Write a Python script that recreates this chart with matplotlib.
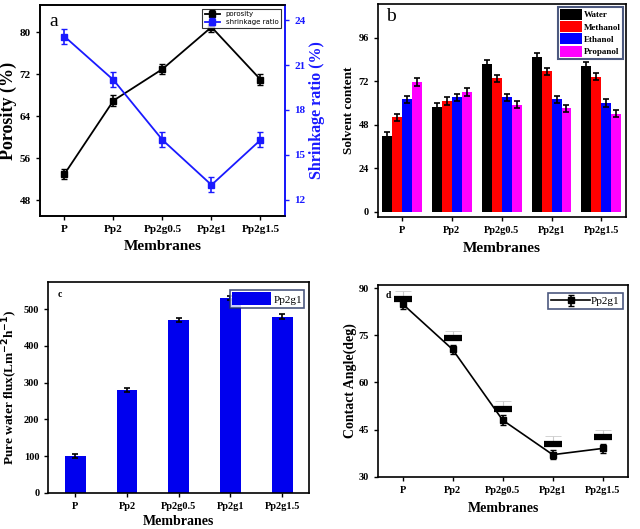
import numpy as np
from matplotlib import pyplot as plt

plt.rcParams["font.family"] = ["Liberation Serif", "DejaVu Serif"]
plt.rcParams["font.weight"] = "bold"
plt.rcParams["axes.labelweight"] = "bold"

# Data
membranes = ["P", "Pp2", "Pp2g0.5", "Pp2g1", "Pp2g1.5"]

porosity = [53, 67, 73, 81, 71]
porosity_err = [1, 1, 1, 1, 1]
shrinkage = [22.9, 20.0, 16.0, 13.0, 16.0]
shrinkage_err = [0.5, 0.5, 0.5, 0.5, 0.5]

solvents = ["Water", "Methanol", "Ethanol", "Propanol"]
solvent_colors = ["#000000", "#ff0000", "#0000ff", "#ff00ff"]
water = [42, 58, 81.5, 85.5, 80.5]
methanol = [52, 61, 73.5, 77.5, 74.5]
ethanol = [62, 63, 63, 62, 60]
propanol = [71.5, 66, 59, 57, 54]
solvent_err = [2, 2, 2, 2]

flux = [100, 280, 470, 530, 480]
flux_err = [6, 6, 6, 6, 6]

contact_angle = [85, 70.5, 48, 37, 39]
contact_err = [1.5, 1.5, 1.5, 1.5, 1.5]
contact_top = [86.5, 74, 51.5, 40.5, 42.5]

x = np.arange(len(membranes))

fig = plt.figure(figsize=(6.4, 5.29), dpi=100)


def style_axes(ax, lw=1.2):
    for s in ax.spines.values():
        s.set_linewidth(lw)
    ax.tick_params(direction="out", width=1, length=3)


# Panel a
ax1 = fig.add_axes([0.0625, 0.5917, 0.3828, 0.3988])
ax1.errorbar(x, porosity, yerr=porosity_err, color="black", marker="s", markersize=4,
             capsize=2.5, elinewidth=1.2, lw=1.3, label="porosity")
ax1.set_xlim(-0.5, 4.5)
ax1.set_ylim(45, 85.2)
ax1.set_yticks([48, 56, 64, 72, 80])
ax1.set_xticks(x)
ax1.set_xticklabels(membranes, fontsize=8)
ax1.tick_params(axis="y", labelsize=8)
ax1.set_ylabel("Porosity (%)", fontsize=13, labelpad=2)
ax1.set_xlabel("Membranes", fontsize=11, labelpad=4)
ax1.text(0.04, 0.96, "a", transform=ax1.transAxes, fontsize=14, fontweight="normal", va="top")
style_axes(ax1)

ax1b = ax1.twinx()
ax1b.errorbar(x, shrinkage, yerr=shrinkage_err, color="#1a1aff", marker="s", markersize=4,
              capsize=2.5, elinewidth=1.2, lw=1.3, label="shrinkage ratio")
ax1b.set_ylim(10.93, 25)
ax1b.set_yticks([12, 15, 18, 21, 24])
ax1b.tick_params(axis="y", colors="#1a1aff", labelsize=8, direction="out", width=1, length=3)
ax1b.spines["right"].set_color("#1a1aff")
ax1b.spines["right"].set_linewidth(1.4)
for s in ["left", "top", "bottom"]:
    ax1b.spines[s].set_linewidth(1.2)
ax1b.set_ylabel("Shrinkage ratio (%)", fontsize=11.5, color="#1a1aff", labelpad=3)

h1, l1 = ax1.get_legend_handles_labels()
h2, l2 = ax1b.get_legend_handles_labels()
leg = ax1b.legend(h1 + h2, l1 + l2, loc="upper right", bbox_to_anchor=(0.99, 0.99),
                  prop={"family": "DejaVu Sans", "size": 5, "weight": "normal"},
                  frameon=True, fancybox=False, edgecolor="black", handlelength=2.2,
                  borderpad=0.4, labelspacing=0.25, borderaxespad=0.2)
leg.get_frame().set_linewidth(0.8)

# Panel b
ax2 = fig.add_axes([0.591, 0.5904, 0.387, 0.402])
series = [water, methanol, ethanol, propanol]
w = 0.2
for i, (vals, name, col) in enumerate(zip(series, solvents, solvent_colors)):
    ax2.bar(x + (i - 1.5) * w, vals, w, color=col, label=name,
            yerr=solvent_err[i], capsize=2.5,
            error_kw={"elinewidth": 1.2, "capthick": 1.2, "ecolor": "black"})
ax2.set_xlim(-0.47, 4.49)
ax2.set_ylim(-2.8, 114.6)
ax2.set_yticks([0, 24, 48, 72, 96])
ax2.set_xticks(x)
ax2.set_xticklabels(membranes, fontsize=7.5)
ax2.tick_params(axis="y", labelsize=7.5)
ax2.set_ylabel("Solvent content", fontsize=9.5, labelpad=3)
ax2.set_xlabel("Membranes", fontsize=11, labelpad=5)
ax2.text(0.03, 0.98, "b", transform=ax2.transAxes, fontsize=14, fontweight="normal", va="top")
style_axes(ax2)
leg2 = ax2.legend(loc="upper right", bbox_to_anchor=(0.995, 0.995), fontsize=6.5,
                  fancybox=False, edgecolor="#1f2f5f", handlelength=2.5, handleheight=1.5,
                  borderpad=0.2, labelspacing=0.15, handletextpad=0.2, borderaxespad=0.2)
leg2.get_frame().set_linewidth(1.5)

# Panel c
ax3 = fig.add_axes([0.0755, 0.0686, 0.4075, 0.3989])
ax3.bar(x, flux, 0.4, color="#0000ee", label="Pp2g1", yerr=flux_err, capsize=2.5,
        error_kw={"elinewidth": 1.2, "capthick": 1.2, "ecolor": "black"})
ax3.set_xlim(-0.52, 4.52)
ax3.set_ylim(0, 575)
ax3.set_yticks([0, 100, 200, 300, 400, 500])
ax3.set_xticks(x)
ax3.set_xticklabels(membranes, fontsize=7.5)
ax3.tick_params(axis="y", labelsize=7.5)
ax3.set_ylabel("Pure water flux(Lm$^{\\mathbf{-2}}$h$^{\\mathbf{-1}}$)", fontsize=9.5, labelpad=3)
ax3.set_xlabel("Membranes", fontsize=10, labelpad=3)
ax3.text(0.035, 0.96, "c", transform=ax3.transAxes, fontsize=7, va="top")
style_axes(ax3)
leg3 = ax3.legend(loc="upper right", bbox_to_anchor=(0.99, 0.97),
                  prop={"weight": "normal", "size": 8},
                  fancybox=False, edgecolor="#1f2f5f", handlelength=3.5, handleheight=1.4,
                  borderpad=0.2, handletextpad=0.2, borderaxespad=0.2)
leg3.get_frame().set_linewidth(1.2)

# Panel d
ax4 = fig.add_axes([0.591, 0.0989, 0.390, 0.3623])
ax4.errorbar(x, contact_top, yerr=[[0] * 5, [2.5] * 5], fmt="none", ecolor="#cccccc",
             elinewidth=0.8, capsize=6, capthick=0.6, ls=":")
ax4.plot(x, contact_top, ls="none", marker="_", color="black", markersize=13, mew=4.5)
ax4.errorbar(x, contact_angle, yerr=contact_err, color="black", marker="s", markersize=4,
             capsize=2.5, elinewidth=1.2, lw=1.2, label="Pp2g1")
ax4.set_xlim(-0.485, 4.5)
ax4.set_ylim(30, 91)
ax4.set_yticks([30, 45, 60, 75, 90])
ax4.set_xticks(x)
ax4.set_xticklabels(membranes, fontsize=7.5)
ax4.tick_params(axis="y", labelsize=7.5)
ax4.set_ylabel("Contact Angle(deg)", fontsize=10, labelpad=1)
ax4.set_xlabel("Membranes", fontsize=10, labelpad=5)
ax4.text(0.03, 0.97, "d", transform=ax4.transAxes, fontsize=7, va="top")
style_axes(ax4)
leg4 = ax4.legend(loc="upper right", bbox_to_anchor=(0.99, 0.97),
                  prop={"weight": "normal", "size": 8},
                  fancybox=False, edgecolor="#1f2f5f", handlelength=3.5,
                  borderpad=0.3, handletextpad=0.1, borderaxespad=0.2)
leg4.get_frame().set_linewidth(1.2)

fig.savefig("out.png", dpi=100)
